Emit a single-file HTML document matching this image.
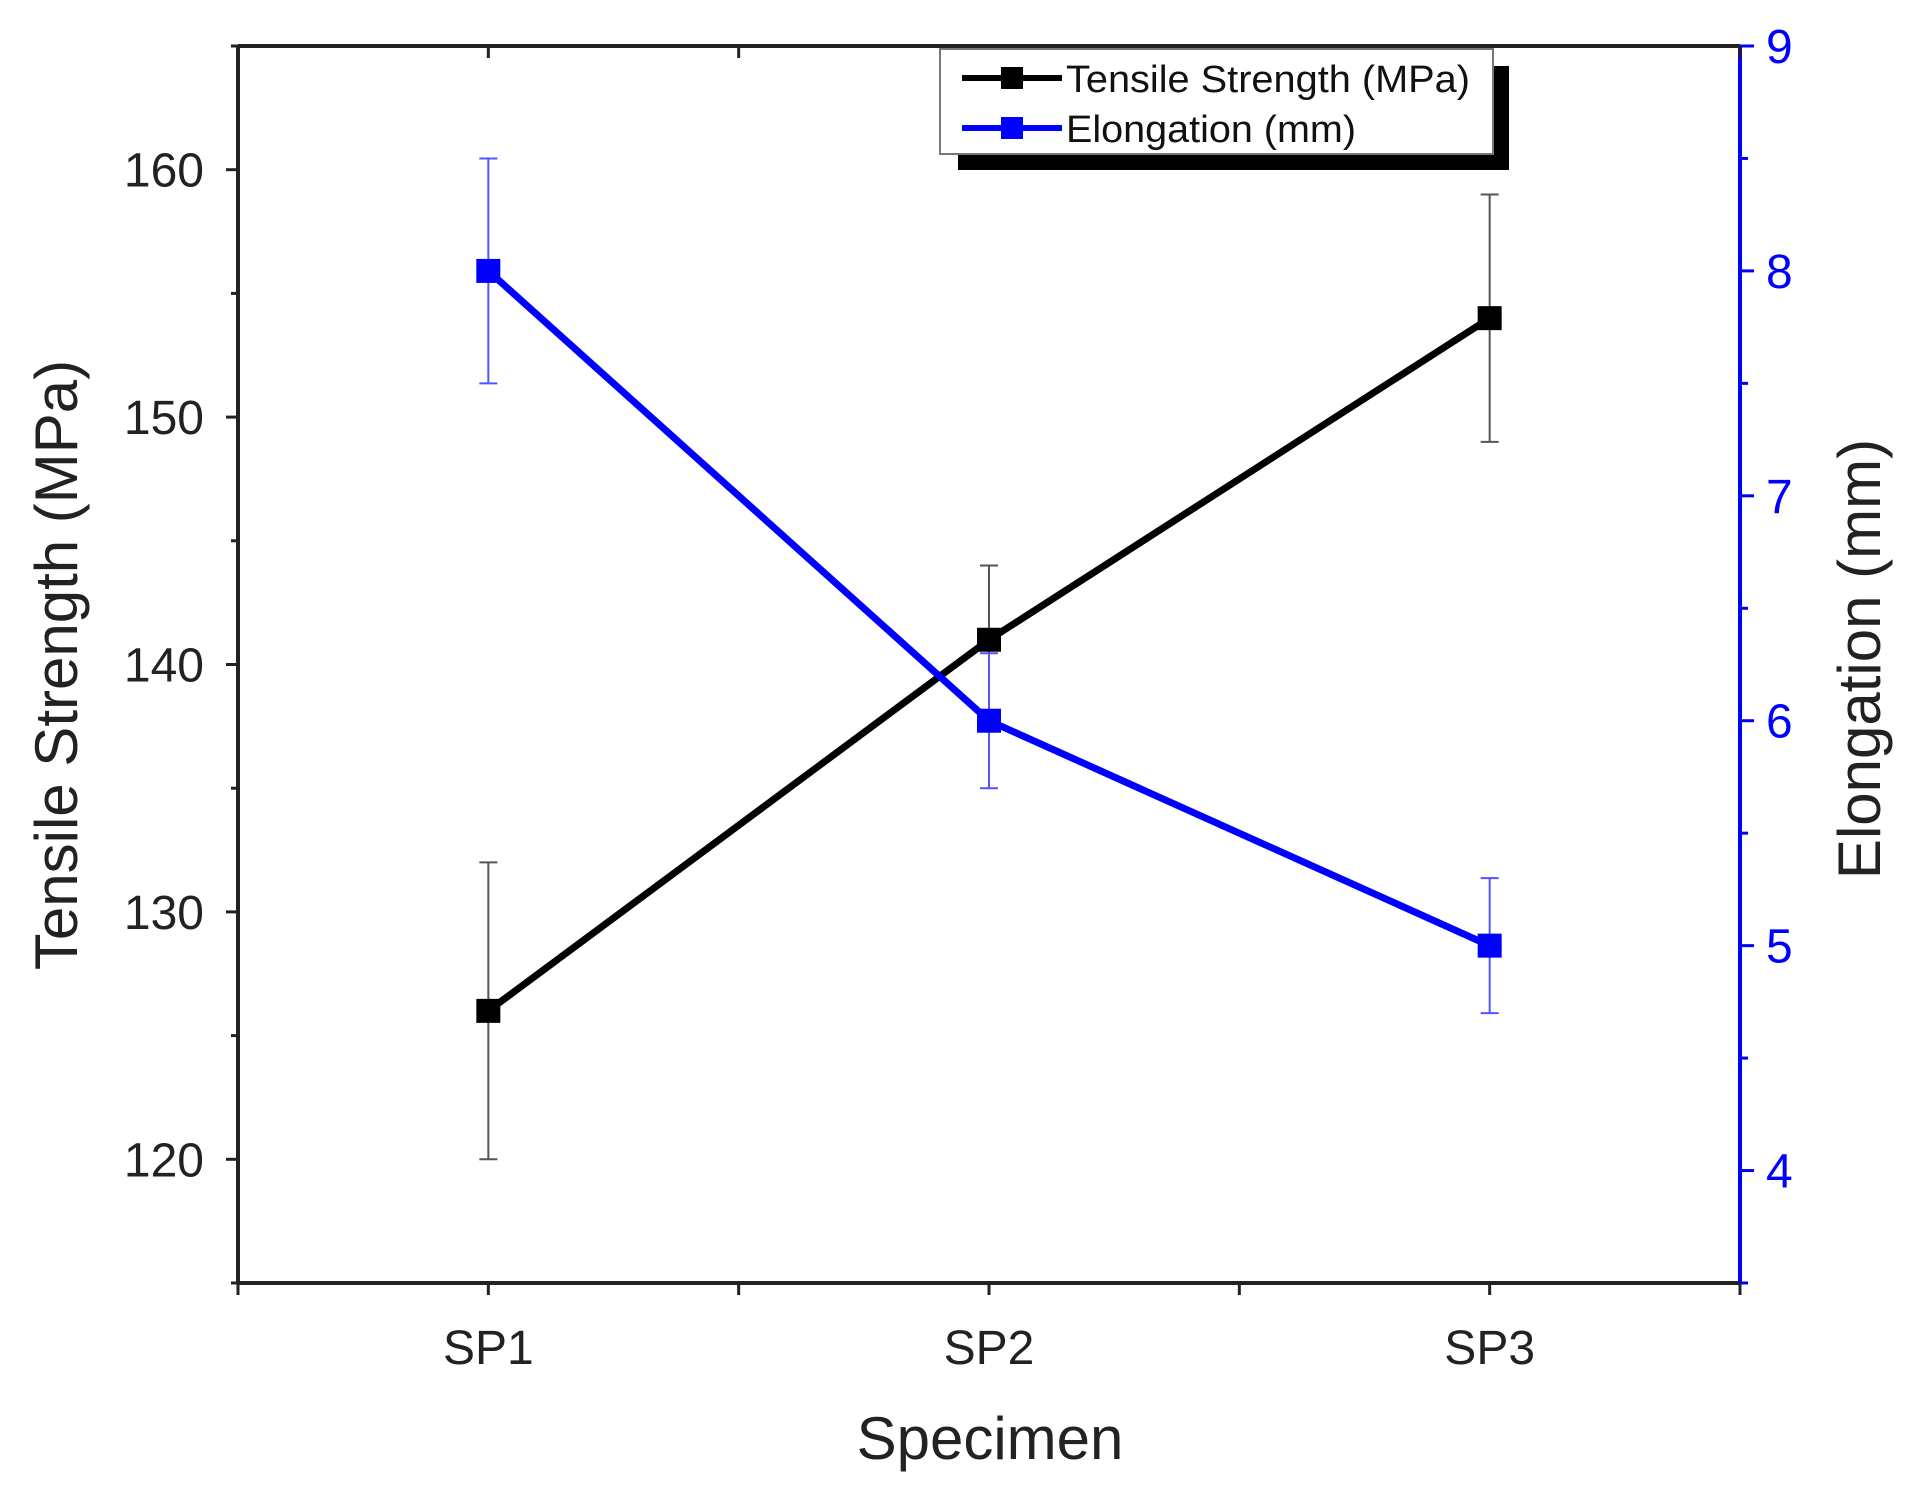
<!DOCTYPE html>
<html><head><meta charset="utf-8"><style>
html,body{margin:0;padding:0;background:#fff;}
svg{display:block;font-family:"Liberation Sans",Arial,sans-serif;}
</style></head><body>
<svg id="chart" width="1930" height="1494" viewBox="0 0 1930 1494" xmlns="http://www.w3.org/2000/svg">
<g id="axes"></g>
<g id="marks"></g>
<g id="legend">
  <rect x="958" y="66" width="551" height="104" fill="#000"/>
  <rect x="940" y="49" width="553" height="105" fill="#fff" stroke="#777" stroke-width="2"/>
  <line x1="962" y1="78" x2="1062" y2="78" stroke="#000" stroke-width="6"/>
  <rect x="1001" y="67" width="22" height="22" fill="#000"/>
  <text x="1066" y="92" textLength="404" lengthAdjust="spacingAndGlyphs" font-size="38" fill="#111">Tensile Strength (MPa)</text>
  <line x1="962" y1="128" x2="1062" y2="128" stroke="#00f" stroke-width="6"/>
  <rect x="1001" y="117" width="22" height="22" fill="#00f"/>
  <text x="1066" y="142" textLength="290" lengthAdjust="spacingAndGlyphs" font-size="38" fill="#111">Elongation (mm)</text>
</g>
</svg>
<script>
const categories = ["SP1","SP2","SP3"];
const tensile = [126, 141, 154];
const tensileErr = [6, 3, 5];
const elongation = [8, 6, 5];
const elongationErr = [0.5, 0.3, 0.3];
const leftTicks = [120, 130, 140, 150, 160];
const rightTicks = [4, 5, 6, 7, 8, 9];

const NS = "http://www.w3.org/2000/svg";
const L = 238, R = 1740, T = 46, B = 1283;
const yL = v => B - (v - 115) / (165 - 115) * (B - T);
const yR = v => B - (v - 3.5) / (9 - 3.5) * (B - T);
const xC = i => L + (i + 0.5) / 3 * (R - L);
const axes = document.getElementById('axes');
const marks = document.getElementById('marks');
function mk(tag, attrs, parent) {
  const e = document.createElementNS(NS, tag);
  for (const k in attrs) e.setAttribute(k, attrs[k]);
  parent.appendChild(e);
  return e;
}
let e;
e = mk('line', {x1:L, y1:T, x2:R, y2:T, stroke:'#222', 'stroke-width':4}, axes);


e = mk('line', {x1:L, y1:B, x2:R, y2:B, stroke:'#222', 'stroke-width':4}, axes);


e = mk('line', {x1:L, y1:T, x2:L, y2:B, stroke:'#222', 'stroke-width':4}, axes);


e = mk('line', {x1:R, y1:T, x2:R, y2:B, stroke:'#00f', 'stroke-width':4}, axes);


for (let v = 115; v <= 165; v += 5) {
  const major = v % 10 === 0;
  e = mk('line', {x1:L - (major ? 12 : 7), y1:yL(v), x2:L, y2:yL(v), stroke:'#222', 'stroke-width':3}, axes);
  
  
}
leftTicks.forEach(v => {
  e = mk('text', {x:L - 34, y:yL(v) + 17, 'font-size':48, 'text-anchor':'end', fill:'#222'}, axes);
  e.textContent = v;
  
  
});
for (let v = 3.5; v <= 9; v += 0.5) {
  const major = Number.isInteger(v);
  e = mk('line', {x1:R, y1:yR(v), x2:R + (major ? 14 : 8), y2:yR(v), stroke:'#00f', 'stroke-width':3}, axes);
  
  
}
rightTicks.forEach(v => {
  e = mk('text', {x:R + 26, y:yR(v) + 17, 'font-size':48, fill:'#00f'}, axes);
  e.textContent = v;
  
  
});
for (let i = -0.5; i <= 2.5; i += 0.5) {
  const x = xC(i);
  e = mk('line', {x1:x, y1:B, x2:x, y2:B + 12, stroke:'#222', 'stroke-width':3}, axes);
  
  
  e = mk('line', {x1:x, y1:T, x2:x, y2:T + 12, stroke:'#222', 'stroke-width':3}, axes);
  
  
}
categories.forEach((c, i) => {
  e = mk('text', {x:xC(i), y:1364, 'font-size':48, 'text-anchor':'middle', fill:'#222'}, axes);
  e.textContent = c;
  
  
});
e = mk('text', {x:990, y:1459, 'font-size':60, 'text-anchor':'middle', fill:'#222'}, axes);
e.textContent = 'Specimen';


e = mk('text', {x:0, y:0, 'font-size':60, 'text-anchor':'middle', fill:'#222', transform:'translate(77,665) rotate(-90)'}, axes);
e.textContent = 'Tensile Strength (MPa)';


e = mk('text', {x:0, y:0, 'font-size':60, 'text-anchor':'middle', fill:'#222', transform:'translate(1880,659) rotate(-90)'}, axes);
e.textContent = 'Elongation (mm)';


function series(vals, errs, yf, color, errColor, name) {
  vals.forEach((v, i) => {
    const x = xC(i);
    e = mk('path', {d:`M${x},${yf(v - errs[i])}V${yf(v + errs[i])}M${x-9},${yf(v - errs[i])}H${x+9}M${x-9},${yf(v + errs[i])}H${x+9}`, stroke:errColor, 'stroke-width':2, fill:'none'}, marks);
    
    
  });
  e = mk('polyline', {points: vals.map((v, i) => xC(i) + ',' + yf(v)).join(' '), stroke:color, 'stroke-width':7, fill:'none'}, marks);
  
  
  vals.forEach((v, i) => {
    e = mk('rect', {x:xC(i) - 12, y:yf(v) - 12, width:24, height:24, fill:color}, marks);
    
    
  });
}
series(tensile, tensileErr, yL, '#000', '#555', 'tensile');
series(elongation, elongationErr, yR, '#00f', '#55f', 'elongation');
</script>
</body></html>
